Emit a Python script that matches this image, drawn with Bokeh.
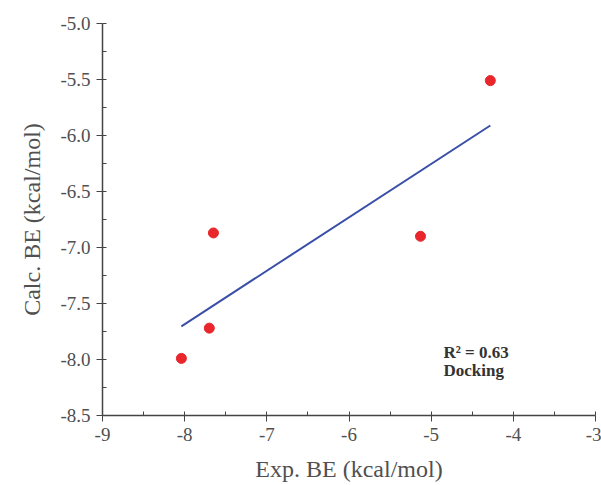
import numpy as np
from bokeh.plotting import figure
from bokeh.models import SingleIntervalTicker, PrintfTickFormatter, Range1d, Label
from bokeh.embed import file_html
from bokeh.resources import INLINE

exp_be = [-4.28, -7.65, -5.13, -7.70, -8.04]
calc_be = [-5.51, -6.87, -6.90, -7.72, -7.99]
annot_lines = ["R² = 0.63", "Docking"]

slope, intercept = np.polyfit(exp_be, calc_be, 1)
fit_x = [min(exp_be), max(exp_be)]
fit_y = [slope * v + intercept for v in fit_x]

FONT = "Liberation Serif"

p = figure(width=601, height=485, output_backend="svg", toolbar_location=None,
           x_range=Range1d(-9, -3), y_range=Range1d(-8.5, -5.0),
           min_border_left=102, min_border_right=6, min_border_top=23, min_border_bottom=70)
p.outline_line_color = None
p.xgrid.visible = False
p.ygrid.visible = False

p.line(fit_x, fit_y, line_color="#3a4fa8", line_width=2)
p.scatter(exp_be, calc_be, size=10, fill_color="#e8262b", line_color="#e8262b")

p.xaxis.ticker = SingleIntervalTicker(interval=1, num_minor_ticks=2)
p.yaxis.ticker = SingleIntervalTicker(interval=0.5, num_minor_ticks=2)
p.xaxis.formatter = PrintfTickFormatter(format="%d")
p.yaxis.formatter = PrintfTickFormatter(format="%.1f")

for ax in (p.xaxis[0], p.yaxis[0]):
    ax.axis_line_color = "#444444"
    ax.axis_line_width = 1.5
    ax.major_tick_line_color = "#444444"
    ax.minor_tick_line_color = "#444444"
    ax.major_tick_out = 6
    ax.major_tick_in = 0
    ax.minor_tick_out = 0
    ax.minor_tick_in = 4
    ax.major_label_text_font = FONT
    ax.major_label_text_font_size = "19px"
    ax.major_label_text_color = "#505050"
    ax.axis_label_text_font = FONT
    ax.axis_label_text_font_size = "24px"
    ax.axis_label_text_font_style = "normal"
    ax.axis_label_text_color = "#505050"

p.xaxis.axis_label = "Exp. BE (kcal/mol)"
p.yaxis.axis_label = "Calc. BE (kcal/mol)"
p.xaxis.major_label_standoff = 6
p.yaxis.major_label_standoff = 6
p.xaxis.axis_label_standoff = 12
p.yaxis.axis_label_standoff = 12

for i, t in enumerate(annot_lines):
    p.add_layout(Label(x=-4.85, y=-7.94 - i * 0.16, text=t, text_font=FONT,
                       text_font_size="17px", text_font_style="bold",
                       text_color="#333333", text_baseline="middle"))

open("out.html", "w").write(file_html(p, INLINE))
